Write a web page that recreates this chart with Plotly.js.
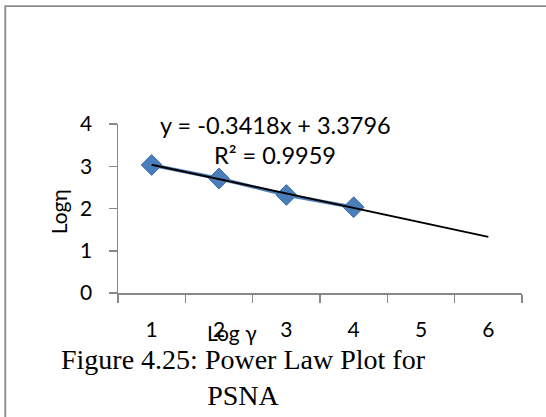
<!DOCTYPE html>
<html>
<head>
<meta charset="utf-8">
<script src="https://cdn.plot.ly/plotly-3.0.1.min.js"></script>
<style>
  html, body { margin: 0; padding: 0; background: #ffffff; }
  #chart { width: 546px; height: 417px; }
</style>
</head>
<body>
<div id="chart"></div>
<script>
// Categories on the x axis (Log γ)
const categories = ['1', '2', '3', '4', '5', '6'];
const dataX = ['1', '2', '3', '4'];
const logEta = [3.03, 2.71, 2.32, 2.03];
// Linear trendline values, as given by the printed equation y = -0.3418x + 3.3796
const trendX = ['1', '2', '3', '4', '5', '6'];
const trendY = [3.0378, 2.6960, 2.3542, 2.0124, 1.6706, 1.3288];
// Texts
const equationText = 'y = -0.3418x + 3.3796';
const r2Text = 'R² = 0.9959';
const xTitle = 'Log γ';
const yTitle = 'Logη';
const captionText = 'Figure 4.25: Power Law Plot for<br>PSNA';
const yTicks = [0, 1, 2, 3, 4];

const sans = 'Lato, "Open Sans", sans-serif';
const serif = '"Liberation Serif", "DejaVu Serif", serif';
const axisGray = '#888888';

const traces = [
  {
    type: 'scatter',
    mode: 'lines+markers',
    x: dataX,
    y: logEta,
    line: { color: '#4a7ebb', width: 3.5 },
    marker: { symbol: 'diamond', size: 16, color: '#4a7ebb', line: { color: '#3e6ea8', width: 1 } },
    hoverinfo: 'x+y',
    showlegend: false
  },
  {
    type: 'scatter',
    mode: 'lines',
    x: trendX,
    y: trendY,
    line: { color: '#000000', width: 2 },
    hoverinfo: 'skip',
    showlegend: false
  }
];

const layout = {
  width: 546,
  height: 417,
  margin: { l: 117.7, r: 24.3, t: 123.5, b: 123.5, pad: 0 },
  paper_bgcolor: '#ffffff',
  plot_bgcolor: '#ffffff',
  showlegend: false,
  xaxis: {
    type: 'category',
    categoryorder: 'array',
    categoryarray: categories,
    range: [-0.5, 5.5],
    tickson: 'boundaries',
    ticks: 'outside',
    ticklen: 8,
    tickwidth: 1.5,
    tickcolor: axisGray,
    showline: true,
    linecolor: axisGray,
    linewidth: 1.5,
    showgrid: false,
    zeroline: false,
    tickfont: { family: sans, size: 21, color: '#000000' },
    ticklabelstandoff: 17,
    fixedrange: true
  },
  yaxis: {
    range: [0, 4],
    tickmode: 'array',
    tickvals: yTicks,
    ticks: 'outside',
    ticklen: 8,
    tickwidth: 1.5,
    tickcolor: axisGray,
    showline: true,
    linecolor: axisGray,
    linewidth: 1.5,
    showgrid: false,
    zeroline: false,
    tickfont: { family: sans, size: 21, color: '#000000' },
    ticklabelstandoff: 12,
    fixedrange: true
  },
  shapes: [
    {
      type: 'rect', xref: 'paper', yref: 'paper',
      x0: -0.279, x1: 1.095, y0: -0.803, y1: 1.697,
      line: { color: '#8a8a8a', width: 1.8 },
      fillcolor: 'rgba(0,0,0,0)'
    }
  ],
  annotations: [
    {
      text: equationText, xref: 'paper', yref: 'paper',
      x: 0.389, y: 0.997, xanchor: 'center', yanchor: 'middle',
      showarrow: false, font: { family: sans, size: 23.5, color: '#000000' }
    },
    {
      text: r2Text, xref: 'paper', yref: 'paper',
      x: 0.389, y: 0.815, xanchor: 'center', yanchor: 'middle',
      showarrow: false, font: { family: sans, size: 23.5, color: '#000000' }
    },
    {
      text: xTitle, xref: 'paper', yref: 'paper',
      x: 0.283, y: -0.235, xanchor: 'center', yanchor: 'middle',
      showarrow: false, font: { family: sans, size: 21, color: '#000000' }
    },
    {
      text: yTitle, xref: 'paper', yref: 'paper',
      x: -0.148, y: 0.479, xanchor: 'center', yanchor: 'middle',
      textangle: -90,
      showarrow: false, font: { family: sans, size: 21, color: '#000000' }
    },
    {
      text: captionText, xref: 'paper', yref: 'paper',
      x: 0.310, y: -0.498, xanchor: 'center', yanchor: 'middle',
      align: 'center',
      showarrow: false, font: { family: serif, size: 28, color: '#000000' }
    }
  ]
};

Plotly.newPlot('chart', traces, layout, { displayModeBar: false, staticPlot: true });
</script>
</body>
</html>
